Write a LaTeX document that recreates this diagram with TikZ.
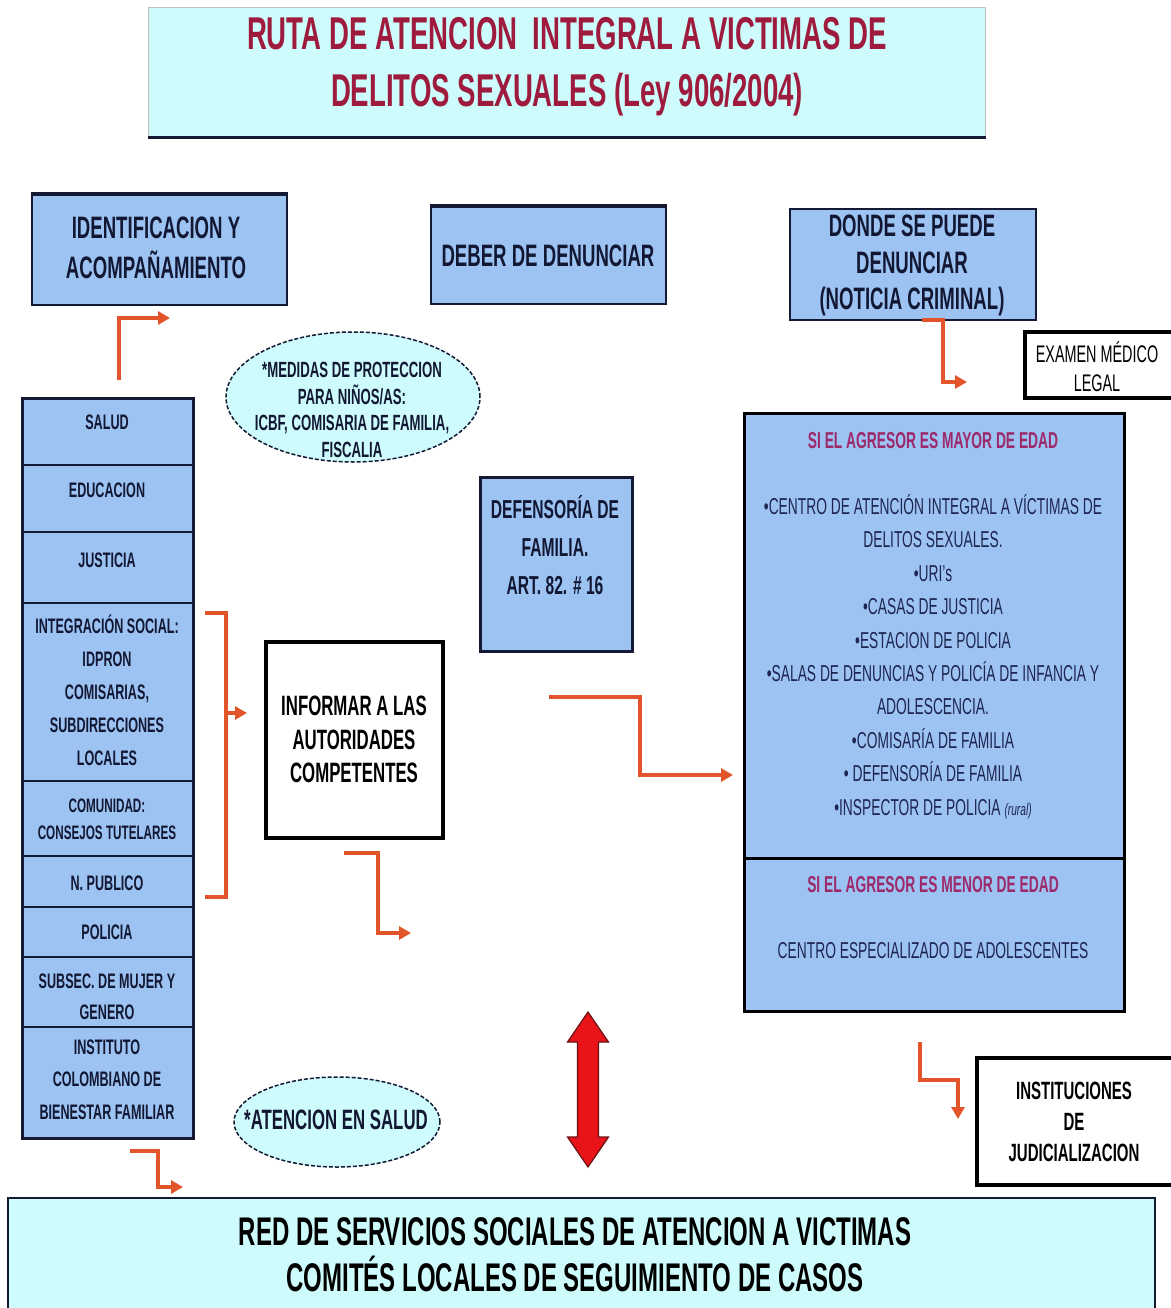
\documentclass[tikz,border=0pt]{standalone}
\usepackage{fontspec}
\setmainfont{Liberation Sans}[FakeStretch=0.6]
\usetikzlibrary{arrows.meta,shapes.geometric,calc}
\definecolor{boxblue}{HTML}{9DC3F2}
\definecolor{boxcyan}{HTML}{CEFBFB}
\definecolor{edge}{HTML}{141A33}
\definecolor{arr}{HTML}{E2552A}
\definecolor{titred}{HTML}{9E1B3D}
\definecolor{mag}{HTML}{9C2A6A}
\definecolor{navy}{HTML}{121833}
\definecolor{listblue}{HTML}{1E2550}
\definecolor{arrred}{HTML}{E8141A}
\definecolor{darkred}{HTML}{6A1010}
\newcommand\myfs[2]{\fontsize{#1pt}{#2pt}\selectfont}
\begin{document}
\begin{tikzpicture}[x=1pt,y=-1pt,
  box/.style={draw=edge,line width=2.2pt,fill=boxblue,inner sep=0pt,rectangle},
  wbox/.style={draw=black,line width=3.5pt,fill=white,inner sep=0pt,rectangle},
  cbox/.style={fill=boxcyan,inner sep=0pt,rectangle},
  cell/.style={draw=edge,line width=2pt,fill=boxblue,inner sep=0pt,rectangle,minimum width=171pt},
  txt/.style={align=center,inner sep=0pt,text=navy,font=\bfseries},
  ltxt/.style={align=center,inner sep=0pt,text=listblue},
  oval/.style={ellipse,draw=edge,dash pattern=on 4pt off 2pt,line width=1.5pt,fill=boxcyan,inner sep=0pt},
  conn/.style={draw=arr,line width=4pt,-{Triangle[length=12pt,width=13pt]}},
  plain/.style={draw=arr,line width=4pt}
  ]
\useasboundingbox (0,0) rectangle (1170,1308);
\fill[white] (0,0) rectangle (1170,1308);

% title
\node[cbox,draw=gray!50,line width=1pt,minimum width=837pt,minimum height=129pt] (title) at (566.5,72.5) {};
\draw[edge,line width=3pt] (title.south west) -- (title.south east);
\node[align=center,inner sep=0pt,text=titred,font=\bfseries\myfs{46}{57}] (titletext) at (567,66.5)
  {RUTA DE ATENCION \ INTEGRAL A VICTIMAS DE\\DELITOS SEXUALES (Ley 906/2004)};

% top boxes
\node[box,minimum width=255pt,minimum height=110pt] (ident) at (159.5,250) {};
\draw[edge,line width=3.5pt] (ident.north west) -- (ident.north east);
\node[txt,font=\bfseries\myfs{31}{40}] (identt) at (156,248) {IDENTIFICACION Y\\ACOMPAÑAMIENTO};
\node[box,minimum width=235pt,minimum height=97pt] (deber) at (548.5,255.5) {};
\draw[edge,line width=3.5pt] (deber.north west) -- (deber.north east);
\node[txt,font=\bfseries\myfs{31}{40}] (debert) at (548,256) {DEBER DE DENUNCIAR};
\node[box,minimum width=246pt,minimum height=111pt] (donde) at (913,264.5) {};
\node[txt,font=\bfseries\myfs{31}{36.5}] (dondet) at (912,265.5) {DONDE SE PUEDE\\DENUNCIAR\\(NOTICIA CRIMINAL)};
\node[wbox,minimum width=150pt,minimum height=66pt] (examen) at (1100,365) {};
\node[align=center,inner sep=0pt,text=black,font=\myfs{24}{29}] (exament) at (1097,366.5) {EXAMEN MÉDICO\\LEGAL};

% ellipse medidas
\node[oval,minimum width=254pt,minimum height=130pt] (medidas) at (353,397) {};
\node[txt,font=\bfseries\myfs{22}{26.7}] (medidast) at (352,410) {*MEDIDAS DE PROTECCION\\PARA NIÑOS/AS:\\ICBF, COMISARIA DE FAMILIA,\\FISCALIA};

% left column
\node[cell,minimum height=67pt] (c1) at (107.5,431.5) {};
\node[cell,minimum height=67pt] (c2) at (107.5,498.5) {};
\node[cell,minimum height=71pt] (c3) at (107.5,567.5) {};
\node[cell,minimum height=178pt] (c4) at (107.5,692) {};
\node[cell,minimum height=75pt] (c5) at (107.5,818.5) {};
\node[cell,minimum height=51pt] (c6) at (107.5,881.5) {};
\node[cell,minimum height=50pt] (c7) at (107.5,932) {};
\node[cell,minimum height=70pt] (c8) at (107.5,992) {};
\node[cell,minimum height=111pt] (c9) at (107.5,1082.5) {};
\draw[edge,line width=3pt] (22,398) rectangle (193,1138);
\node[txt,font=\bfseries\myfs{21}{33}] (t1) at (107,422) {SALUD};
\node[txt,font=\bfseries\myfs{21}{33}] (t2) at (107,490) {EDUCACION};
\node[txt,font=\bfseries\myfs{21}{33}] (t3) at (107,560) {JUSTICIA};
\node[txt,font=\bfseries\myfs{21}{33}] (t4) at (107,690) {INTEGRACIÓN SOCIAL:\\IDPRON\\COMISARIAS,\\SUBDIRECCIONES\\LOCALES};
\node[txt,font=\bfseries\myfs{19.5}{27}] (t5) at (107,819.5) {COMUNIDAD:\\CONSEJOS TUTELARES};
\node[txt,font=\bfseries\myfs{21}{33}] (t6) at (107,883) {N. PUBLICO};
\node[txt,font=\bfseries\myfs{21}{33}] (t7) at (107,932) {POLICIA};
\node[txt,font=\bfseries\myfs{21}{31}] (t8) at (107,996.5) {SUBSEC. DE MUJER Y\\GENERO};
\node[txt,font=\bfseries\myfs{21}{32.5}] (t9) at (107,1079.5) {INSTITUTO\\COLOMBIANO DE\\BIENESTAR FAMILIAR};

% defensoria
\node[box,line width=3pt,minimum width=152pt,minimum height=174pt] (defen) at (556,564) {};
\node[txt,font=\bfseries\myfs{26}{38}] (defent) at (555,545) {DEFENSORÍA DE\\FAMILIA.\\ART. 82. \# 16};

% informar
\node[wbox,minimum width=177pt,minimum height=196pt] (inform) at (354.5,740) {};
\node[align=center,inner sep=0pt,text=black,font=\bfseries\myfs{28}{33.5}] (informt) at (354,739.5) {INFORMAR A LAS\\AUTORIDADES\\COMPETENTES};

% right big box
\node[box,draw=black,line width=3pt,minimum width=380pt,minimum height=445pt] (mayor) at (934,635.5) {};
\node[box,draw=black,line width=3pt,minimum width=380pt,minimum height=153pt] (menor) at (934,934.5) {};
\node[inner sep=0pt,text=mag,font=\bfseries\myfs{23}{30}] (mayorh) at (933,441) {SI EL AGRESOR ES MAYOR DE EDAD};
\node[ltxt,font=\myfs{23}{33.4}] (mayorl) at (933,656.5) {•CENTRO DE ATENCIÓN INTEGRAL A VÍCTIMAS DE\\DELITOS SEXUALES.\\•URI's\\•CASAS DE JUSTICIA\\•ESTACION DE POLICIA\\•SALAS DE DENUNCIAS Y POLICÍA DE INFANCIA Y\\ADOLESCENCIA.\\•COMISARÍA DE FAMILIA\\• DEFENSORÍA DE FAMILIA\\•INSPECTOR DE POLICIA {\itshape\myfs{17}{20}(rural)}};
\node[inner sep=0pt,text=mag,font=\bfseries\myfs{23}{30}] (menorh) at (933,885) {SI EL AGRESOR ES MENOR DE EDAD};
\node[ltxt,font=\myfs{23}{30}] (menorl) at (933,951) {CENTRO ESPECIALIZADO DE ADOLESCENTES};

% instituciones
\node[wbox,minimum width=198pt,minimum height=127pt] (judic) at (1076,1121.5) {};
\node[align=center,inner sep=0pt,text=black,font=\bfseries\myfs{25}{31}] (judict) at (1074,1122) {INSTITUCIONES\\DE\\JUDICIALIZACION};

% atencion en salud
\node[oval,minimum width=206pt,minimum height=90pt] (salud) at (337,1122) {};
\node[txt,font=\bfseries\myfs{28}{33}] (saludt) at (336,1120) {*ATENCION EN SALUD};

% bottom box
\node[cbox,draw=edge,line width=2.5pt,minimum width=1147pt,minimum height=122pt] (red) at (581.5,1259) {};
\node[align=center,inner sep=0pt,text=black,font=\bfseries\myfs{40}{46}] (redt) at (575,1255) {RED DE SERVICIOS SOCIALES DE ATENCION A VICTIMAS\\COMITÉS LOCALES DE SEGUIMIENTO DE CASOS};

% orange connectors
\coordinate (a1s) at (119,380);
\coordinate (a1e) at (170,318);
\draw[conn] (a1s) |- (a1e);

\coordinate (b1) at (205,613);
\coordinate (b2) at (226,613);
\coordinate (b3) at (226,897);
\coordinate (b4) at (205,897);
\draw[plain,line join=miter] (b1) -- (b2) -- (b3) -- (b4);
\coordinate (bm) at (226,713);
\coordinate (bme) at (247,713);
\draw[conn] (bm) -- (bme);

\coordinate (a3s) at (344,853);
\coordinate (a3e) at (411,933);
\draw[conn] (a3s) -- (378,853) -- (378,933) -- (a3e);

\coordinate (a4s) at (549,697);
\coordinate (a4e) at (733,775);
\draw[conn] (a4s) -- (640,697) -- (640,775) -- (a4e);

\coordinate (a5s) at (922,320);
\coordinate (a5e) at (967,382);
\draw[conn] (a5s) -- (943,320) -- (943,382) -- (a5e);

\coordinate (a6s) at (920,1042);
\coordinate (a6e) at (958,1119);
\draw[conn] (a6s) -- (920,1080) -- (958,1080) -- (a6e);

\coordinate (a7s) at (130,1151);
\coordinate (a7e) at (183,1187);
\draw[conn] (a7s) -- (158,1151) -- (158,1187) -- (a7e);

% red double arrow
\coordinate (dtop) at (588,1012);
\coordinate (dbot) at (588,1167);
\draw[draw=darkred,fill=arrred,line width=1.2pt,line join=miter]
  (dtop) -- ++(20.5,30) -- ++(-10,0) -- ++(0,95) -- ++(10,0) -- (dbot)
  -- ++(-20.5,-30) -- ++(10,0) -- ++(0,-95) -- ++(-10,0) -- cycle;
\end{tikzpicture}
\end{document}
